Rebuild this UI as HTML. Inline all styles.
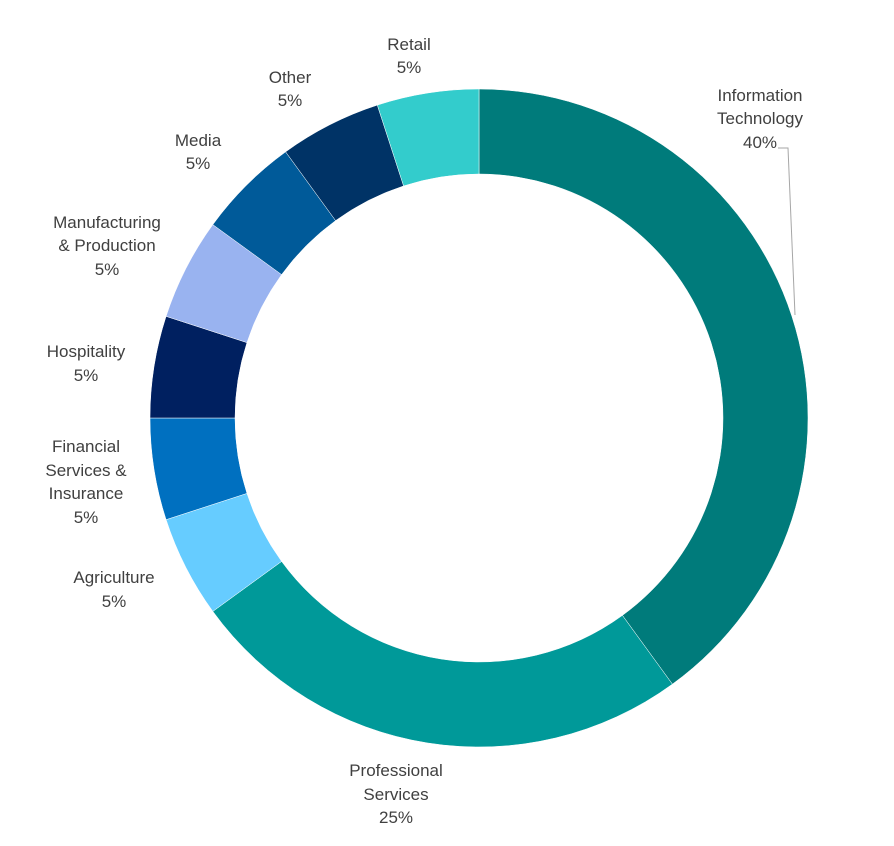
<!DOCTYPE html>
<html><head><meta charset="utf-8"><style>
html,body{margin:0;padding:0;background:#fff;}
svg text{font-family:"Liberation Sans",sans-serif;font-size:17px;fill:#404040;text-anchor:middle;}
</style></head><body>
<svg id="s" width="894" height="841" viewBox="0 0 894 841" xmlns="http://www.w3.org/2000/svg">
<g id="g"></g>
<polyline points="778,148 788,148 795,315" fill="none" stroke="#a6a6a6" stroke-width="1"/>
<text x="760" y="101">Information</text><text x="760" y="124">Technology</text><text x="760" y="148">40%</text>
<text x="396" y="776">Professional</text><text x="396" y="800">Services</text><text x="396" y="823">25%</text>
<text x="114" y="583">Agriculture</text><text x="114" y="607">5%</text>
<text x="86" y="452">Financial</text><text x="86" y="476">Services &amp;</text><text x="86" y="499">Insurance</text><text x="86" y="523">5%</text>
<text x="86" y="357">Hospitality</text><text x="86" y="381">5%</text>
<text x="107" y="228">Manufacturing</text><text x="107" y="251">&amp; Production</text><text x="107" y="275">5%</text>
<text x="198" y="146">Media</text><text x="198" y="169">5%</text>
<text x="290" y="83">Other</text><text x="290" y="106">5%</text>
<text x="409" y="50">Retail</text><text x="409" y="73">5%</text>
</svg>
<script>
var cx=479,cy=418,R=329,r=244;
var d=[[40,"#007b7b"],[25,"#009999"],[5,"#66ccff"],[5,"#0070c0"],[5,"#002060"],[5,"#99b3f0"],[5,"#005a99"],[5,"#003366"],[5,"#33cccc"]];
var a=0,h="";
function p(rad,ang){var t=ang*Math.PI/180;return (cx+rad*Math.sin(t)).toFixed(2)+","+(cy-rad*Math.cos(t)).toFixed(2);}
d.forEach(function(x){var b=a+x[0]*3.6,l=(b-a)>180?1:0;
h+='<path fill="'+x[1]+'" stroke="#fff" stroke-width="0.5" d="M'+p(R,a)+' A'+R+','+R+' 0 '+l+' 1 '+p(R,b)+' L'+p(r,b)+' A'+r+','+r+' 0 '+l+' 0 '+p(r,a)+' Z"/>';a=b;});
document.getElementById("g").innerHTML=h;
</script>
</body></html>
